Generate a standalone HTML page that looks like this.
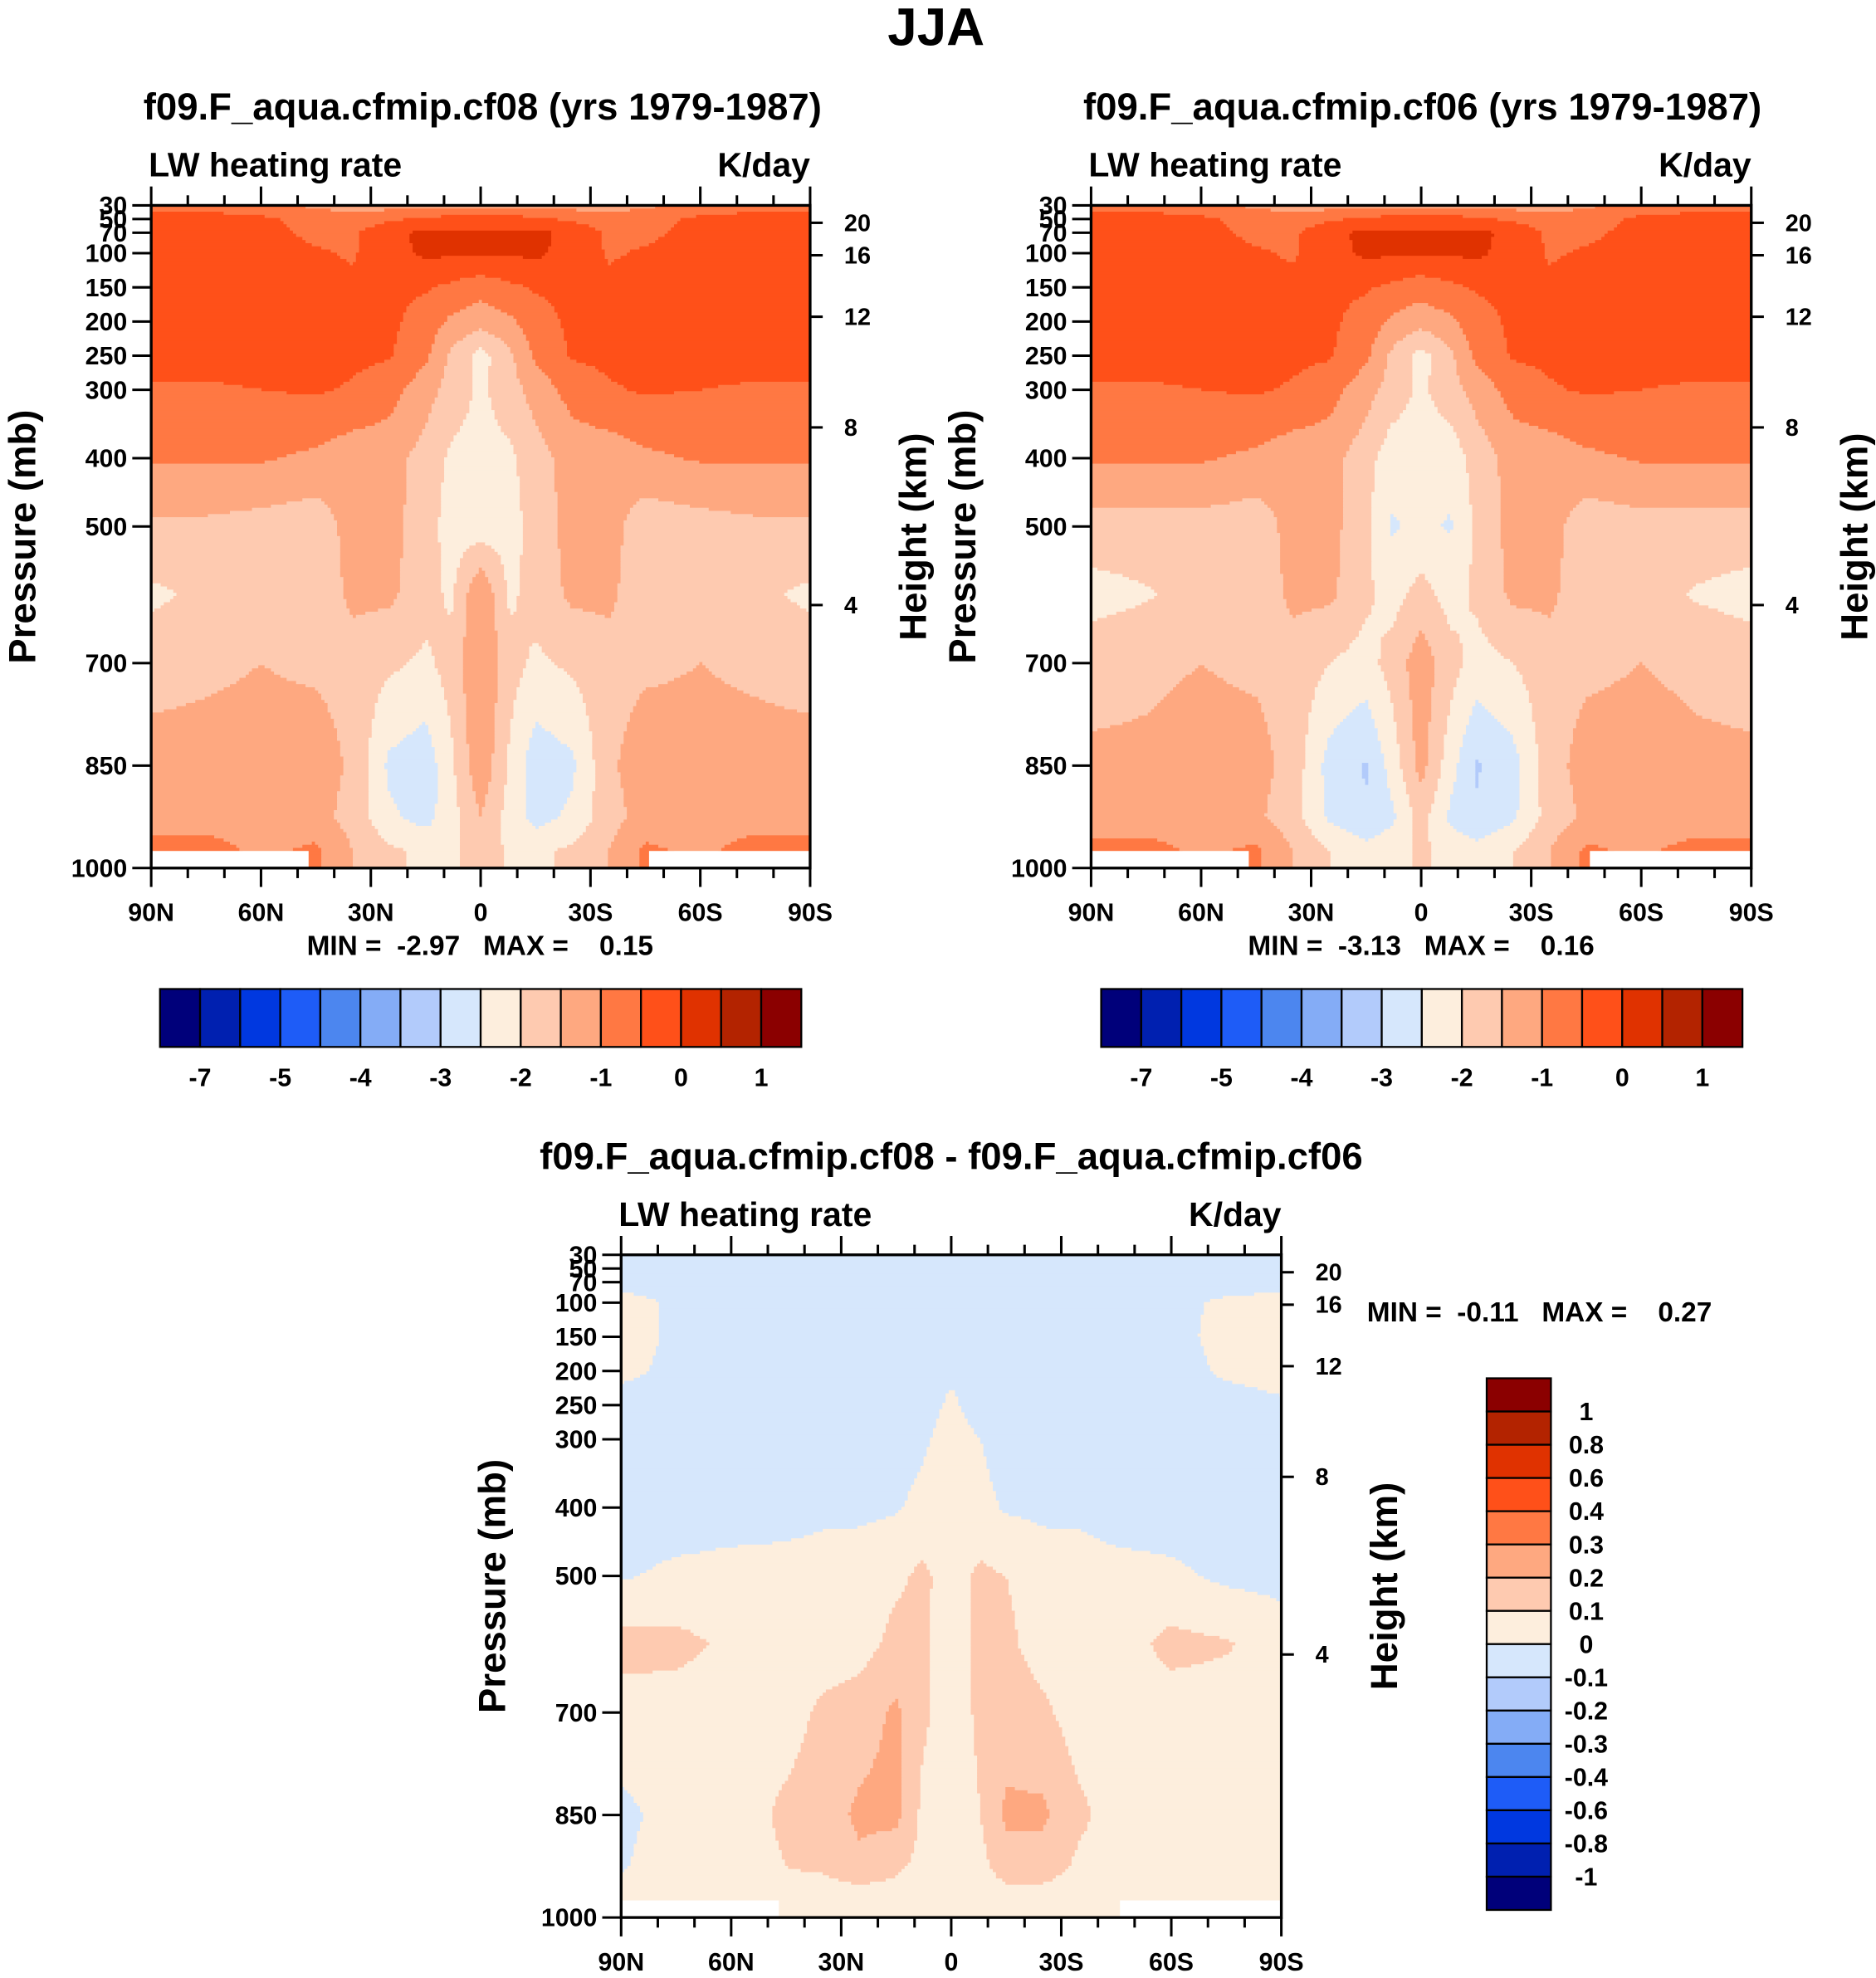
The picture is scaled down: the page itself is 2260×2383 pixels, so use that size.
<!DOCTYPE html>
<html><head><meta charset="utf-8"><style>html,body{margin:0;padding:0;background:#fff}svg{display:block}text{font-family:"Liberation Sans",sans-serif;font-weight:bold;fill:#000;white-space:pre}</style></head>
<body>
<svg id="s" xmlns="http://www.w3.org/2000/svg" width="2260" height="2383" viewBox="0 0 1489 1570">
<rect width="1489" height="1570" fill="#fff"/>
<text x="743" y="36" font-size="42" text-anchor="middle">JJA</text>
</svg>
<script>
const LATS=[90,75,60,45,35,25,15,8,0,-8,-15,-25,-35,-45,-60,-75,-90];
const PLEVS=[30,50,70,100,150,200,250,300,400,500,600,700,850,925,975,1000];
const LEVELS_ABS=[-7,-6,-5,-4.5,-4,-3.5,-3,-2.5,-2,-1.5,-1,-0.5,0,0.5,1];
const LABELS_ABS=["-7","-5","-4","-3","-2","-1","0","1"];
const LEVELS_DIFF=[-1,-0.8,-0.6,-0.4,-0.3,-0.2,-0.1,0,0.1,0.2,0.3,0.4,0.6,0.8,1];
const LABELS_DIFF=["-1","-0.8","-0.6","-0.4","-0.3","-0.2","-0.1","0","0.1","0.2","0.3","0.4","0.6","0.8","1"];
const COLORS=["#00007a","#0020b0","#0038e0","#1e5cf7","#4c86ef","#84acf6","#b2cbfb","#d6e7fc","#fdeedd","#fecab0","#fea880","#ff7843","#ff5019","#e03200","#b32300","#8b0000"];
const PRES_TICKS=[30,50,70,100,150,200,250,300,400,500,700,850,1000];
const HGT_TICKS=[20,16,12,8,4];
const HGT_PRES=[55.5,103,193,355,615];
const LAT_TICKS=[90,60,30,0,-30,-60,-90];
const LAT_LABELS=["90N","60N","30N","0","30S","60S","90S"];
const CF08=[
[-0.7,-0.7,-0.8,-1.1,-1.2,-1.2,-1.2,-1.1,-1.1,-1.1,-1.2,-1.2,-1.2,-1.1,-0.8,-0.7,-0.7],
[-0.3,-0.3,-0.4,-0.7,-0.8,-0.6,-0.4,-0.3,-0.3,-0.3,-0.4,-0.6,-0.8,-0.7,-0.4,-0.3,-0.3],
[-0.3,-0.3,-0.35,-0.6,-0.6,-0.1,0.1,0.05,0.02,0.05,0.1,-0.1,-0.6,-0.6,-0.35,-0.3,-0.3],
[-0.3,-0.3,-0.3,-0.45,-0.55,-0.2,0.1,0.05,0.05,0.05,0.1,-0.2,-0.55,-0.45,-0.3,-0.3,-0.3],
[-0.3,-0.3,-0.3,-0.3,-0.4,-0.4,-0.45,-0.6,-0.8,-0.6,-0.45,-0.4,-0.4,-0.3,-0.3,-0.3,-0.3],
[-0.3,-0.3,-0.3,-0.3,-0.3,-0.4,-0.7,-1.1,-1.3,-1.1,-0.7,-0.4,-0.3,-0.3,-0.3,-0.3,-0.3],
[-0.35,-0.35,-0.35,-0.35,-0.4,-0.45,-0.9,-1.6,-2.2,-1.6,-0.9,-0.45,-0.4,-0.35,-0.35,-0.35,-0.35],
[-0.55,-0.55,-0.5,-0.45,-0.55,-0.8,-1.3,-1.7,-2.1,-1.7,-1.3,-0.8,-0.55,-0.45,-0.5,-0.55,-0.55],
[-0.95,-0.95,-0.95,-1.1,-1.3,-1.3,-1.7,-2.1,-2.2,-2.1,-1.7,-1.3,-1.3,-1.1,-0.95,-0.95,-0.95],
[-1.6,-1.6,-1.7,-1.8,-1.3,-1.3,-1.8,-2.2,-2.3,-2.2,-1.8,-1.3,-1.3,-1.8,-1.7,-1.6,-1.6],
[-2.1,-1.9,-1.8,-1.8,-1.4,-1.4,-1.8,-2.1,-1.0,-2.1,-1.8,-1.4,-1.4,-1.8,-1.8,-1.9,-2.1],
[-1.7,-1.6,-1.5,-1.6,-1.7,-1.9,-2.1,-1.8,-1.0,-1.8,-2.1,-1.9,-1.7,-1.6,-1.5,-1.6,-1.7],
[-1.3,-1.3,-1.3,-1.2,-1.6,-2.6,-2.8,-2.1,-1.1,-2.1,-2.8,-2.6,-1.6,-1.2,-1.3,-1.3,-1.3],
[-1.2,-1.2,-1.3,-1.3,-1.7,-2.4,-2.7,-2.2,-1.5,-2.2,-2.7,-2.4,-1.7,-1.3,-1.3,-1.2,-1.2],
[-0.8,-0.8,-1.1,-0.9,-1.5,-1.9,-2.1,-2.1,-1.7,-2.1,-2.1,-1.9,-1.5,-0.9,-1.1,-0.8,-0.8],
[-0.8,-0.8,-1.1,-0.9,-1.5,-1.9,-2.1,-2.1,-1.7,-2.1,-2.1,-1.9,-1.5,-0.9,-1.1,-0.8,-0.8]];
const CF06=[
[-0.7,-0.7,-0.8,-1.1,-1.2,-1.2,-1.2,-1.1,-1.1,-1.1,-1.2,-1.2,-1.2,-1.1,-0.8,-0.7,-0.7],
[-0.3,-0.3,-0.4,-0.7,-0.8,-0.6,-0.4,-0.3,-0.3,-0.3,-0.4,-0.6,-0.8,-0.7,-0.4,-0.3,-0.3],
[-0.3,-0.3,-0.35,-0.6,-0.6,-0.1,0.1,0.05,0.02,0.05,0.1,-0.1,-0.6,-0.6,-0.35,-0.3,-0.3],
[-0.3,-0.3,-0.3,-0.45,-0.55,-0.2,0.1,0.05,0.05,0.05,0.1,-0.2,-0.55,-0.45,-0.3,-0.3,-0.3],
[-0.3,-0.3,-0.3,-0.3,-0.4,-0.4,-0.45,-0.6,-0.8,-0.6,-0.45,-0.4,-0.4,-0.3,-0.3,-0.3,-0.3],
[-0.3,-0.3,-0.3,-0.3,-0.3,-0.4,-0.7,-1.1,-1.3,-1.1,-0.7,-0.4,-0.3,-0.3,-0.3,-0.3,-0.3],
[-0.35,-0.35,-0.35,-0.35,-0.4,-0.45,-0.9,-1.6,-2.2,-1.6,-0.9,-0.45,-0.4,-0.35,-0.35,-0.35,-0.35],
[-0.55,-0.55,-0.5,-0.45,-0.55,-0.8,-1.3,-1.7,-2.1,-1.7,-1.3,-0.8,-0.55,-0.45,-0.5,-0.55,-0.55],
[-0.95,-0.95,-0.95,-1.1,-1.3,-1.3,-1.8,-2.3,-2.3,-2.3,-1.8,-1.3,-1.3,-1.1,-0.95,-0.95,-0.95],
[-1.7,-1.7,-1.7,-1.8,-1.3,-1.3,-1.9,-2.55,-2.4,-2.55,-1.9,-1.3,-1.3,-1.8,-1.7,-1.7,-1.7],
[-2.2,-2.05,-1.8,-1.8,-1.4,-1.4,-1.9,-2.2,-1.8,-2.2,-1.9,-1.4,-1.4,-1.8,-1.8,-2.05,-2.2],
[-1.7,-1.6,-1.5,-1.6,-1.7,-2.0,-2.2,-1.8,-1.2,-1.8,-2.2,-2.0,-1.7,-1.6,-1.5,-1.6,-1.7],
[-1.4,-1.4,-1.3,-1.3,-1.7,-2.7,-3.05,-2.3,-1.3,-2.3,-3.05,-2.7,-1.7,-1.3,-1.3,-1.4,-1.4],
[-1.3,-1.3,-1.3,-1.4,-1.8,-2.6,-2.95,-2.6,-1.8,-2.6,-2.95,-2.6,-1.8,-1.4,-1.3,-1.3,-1.3],
[-0.8,-0.8,-1.1,-0.9,-1.5,-2.0,-2.3,-2.2,-1.9,-2.2,-2.3,-2.0,-1.5,-0.9,-1.1,-0.8,-0.8],
[-0.8,-0.8,-1.1,-0.9,-1.5,-2.0,-2.3,-2.2,-1.9,-2.2,-2.3,-2.0,-1.5,-0.9,-1.1,-0.8,-0.8]];
const DIFF=[
[-0.05,-0.05,-0.05,-0.05,-0.05,-0.05,-0.05,-0.05,-0.05,-0.05,-0.05,-0.05,-0.05,-0.05,-0.05,-0.05,-0.05],
[-0.05,-0.05,-0.05,-0.05,-0.05,-0.05,-0.05,-0.05,-0.05,-0.05,-0.05,-0.05,-0.05,-0.05,-0.05,-0.05,-0.05],
[-0.05,-0.05,-0.05,-0.05,-0.05,-0.05,-0.05,-0.05,-0.05,-0.05,-0.05,-0.05,-0.05,-0.05,-0.05,-0.05,-0.05],
[0.05,-0.02,-0.05,-0.05,-0.05,-0.05,-0.05,-0.05,-0.05,-0.05,-0.05,-0.05,-0.05,-0.05,-0.03,0.02,0.05],
[0.05,-0.02,-0.05,-0.05,-0.05,-0.05,-0.05,-0.05,-0.05,-0.05,-0.05,-0.05,-0.05,-0.05,-0.03,0.03,0.05],
[0.03,-0.03,-0.05,-0.05,-0.05,-0.05,-0.05,-0.05,-0.02,-0.05,-0.05,-0.05,-0.02,-0.05,-0.05,0.02,0.05],
[-0.05,-0.05,-0.05,-0.05,-0.05,-0.05,-0.05,-0.05,0.02,-0.05,-0.05,-0.05,-0.05,-0.05,-0.05,-0.05,-0.02],
[-0.05,-0.05,-0.05,-0.05,-0.05,-0.05,-0.05,-0.02,0.05,0.0,-0.05,-0.05,-0.05,-0.05,-0.05,-0.05,-0.05],
[-0.05,-0.05,-0.04,-0.03,-0.02,-0.02,-0.01,0.03,0.06,0.03,-0.01,-0.02,-0.02,-0.04,-0.05,-0.05,-0.05],
[-0.01,0.02,0.03,0.03,0.04,0.05,0.08,0.12,0.06,0.12,0.1,0.05,0.04,0.03,0.02,-0.02,-0.03],
[0.14,0.13,0.08,0.05,0.05,0.06,0.13,0.12,0.05,0.13,0.12,0.06,0.05,0.05,0.13,0.11,0.05],
[0.05,0.05,0.05,0.06,0.12,0.15,0.22,0.12,0.05,0.12,0.15,0.12,0.05,0.05,0.05,0.05,0.05],
[-0.02,0.03,0.05,0.12,0.15,0.22,0.23,0.08,0.04,0.1,0.22,0.22,0.12,0.06,0.05,0.05,0.05],
[-0.01,0.05,0.05,0.1,0.12,0.18,0.12,0.07,0.04,0.07,0.15,0.15,0.08,0.05,0.05,0.05,0.05],
[0.05,0.05,0.05,0.05,0.03,0.03,0.05,0.05,0.05,0.05,0.05,0.05,0.05,0.05,0.05,0.05,0.05],
[0.05,0.05,0.05,0.05,0.05,0.05,0.05,0.05,0.05,0.05,0.05,0.05,0.05,0.05,0.05,0.05,0.05]];

const NS="http://www.w3.org/2000/svg";
const svg=document.getElementById('s');
function mk(tag,attrs,parent){const e=document.createElementNS(NS,tag);for(const k in attrs)e.setAttribute(k,attrs[k]);(parent||svg).appendChild(e);return e;}
function txt(x,y,s,size,anchor,parent){const t=mk('text',{x:x,y:y,'font-size':size,'text-anchor':anchor||'start'},parent);t.textContent=s;return t;}
function sample(data,lat,p){
  let i=0;while(i<LATS.length-2&&lat<LATS[i+1])i++;
  let j=0;while(j<PLEVS.length-2&&p>PLEVS[j+1])j++;
  const fx=(LATS[i]-lat)/(LATS[i]-LATS[i+1]);const fy=(p-PLEVS[j])/(PLEVS[j+1]-PLEVS[j]);
  const a=data[j][i],b=data[j][i+1],c=data[j+1][i],d=data[j+1][i+1];
  return (a*(1-fx)+b*fx)*(1-fy)+(c*(1-fx)+d*fx)*fy;}
function cidx(v,levels){let k=0;for(const l of levels)if(v>=l)k++;return k;}

function panel(px,py,w,h,data,levels,name){
  const g=mk('g',{});
  
  
  const X=lat=>px+(90-lat)/180*w;
  const Y=p=>py+(p-30)/970*h;
  const step=2.5;const nx=Math.ceil(w/step),ny=Math.ceil(h/step);
  for(let r=0;r<ny;r++){
    const y0=py+r*step,y1=Math.min(py+h,y0+step);const p=30+((y0+y1)/2-py)/h*970;
    let start=0,cur=-1;
    for(let c=0;c<=nx;c++){
      let k=-2;
      if(c<nx){const x0=px+c*step;const lat=90-((Math.min(x0+step/2,px+w))-px)/w*180;k=cidx(sample(data,lat,p),levels);}
      if(k!==cur){
        if(cur>=0){const xa=px+start*step,xb=Math.min(px+w,px+c*step);
          const rc=mk('rect',{x:xa,y:y0,width:xb-xa+0.4,height:y1-y0+0.4,fill:COLORS[cur]},g);
          
          }
        cur=k;start=c;}
    }
  }
  for(const [a,b] of [[90,47],[-46,-90]]){
    const m=mk('rect',{x:X(a),y:Y(975),width:X(b)-X(a),height:Y(1000)-Y(975),fill:'#fff'},g);
    
    
  }
  const fr=mk('rect',{x:px,y:py,width:w,height:h,fill:'none',stroke:'#000','stroke-width':2.2},g);
  
  
  PRES_TICKS.forEach(p=>{mk('line',{x1:px-15,x2:px,y1:Y(p),y2:Y(p),stroke:'#000','stroke-width':2},g);
    const t=txt(px-19,Y(p)+7,String(p),20,'end',g);
    
    });
  HGT_TICKS.forEach((hk,i)=>{const yy=Y(HGT_PRES[i]);mk('line',{x1:px+w,x2:px+w+10,y1:yy,y2:yy,stroke:'#000','stroke-width':2},g);
    const t=txt(px+w+27,yy+6.5,String(hk),19,'start',g);
    
    });
  for(let lat=90;lat>=-90;lat-=10){const major=lat%30===0;const L=major?15:8;const xx=X(lat);
    mk('line',{x1:xx,x2:xx,y1:py-L,y2:py,stroke:'#000','stroke-width':2},g);
    mk('line',{x1:xx,x2:xx,y1:py+h,y2:py+h+L,stroke:'#000','stroke-width':2},g);}
  LAT_TICKS.forEach((lt,i)=>{const t=txt(X(lt),py+h+42,LAT_LABELS[i],20,'middle',g);
    
    });
  let t=txt(px-2,py-23,'LW heating rate',27,'start',g);
  
  
  t=txt(px+w,py-23,'K/day',27,'end',g);
  
  
  t=txt(0,0,'Pressure (mb)',30,'middle',g);t.setAttribute('transform',`translate(${px-92},${py+h/2}) rotate(-90)`);
  
  
  t=txt(0,0,'Height (km)',30,'middle',g);t.setAttribute('transform',`translate(${px+w+92},${py+h/2}) rotate(-90)`);
  
  
  return g;
}
function hbar(x,y,w,h){
  const g=mk('g',{});
  
  
  const bw=w/16;
  COLORS.forEach((c,i)=>{const r=mk('rect',{x:x+i*bw,y:y,width:bw,height:h,fill:c,stroke:'#000','stroke-width':1.5},g);
    
    });
  LABELS_ABS.forEach((l,i)=>{const t=txt(x+(2*i+1)*bw,y+h+31,l,20,'middle',g);
    
    });
}
function vbar(x,y,w,h){
  const g=mk('g',{});
  
  
  const bh=h/16;
  COLORS.slice().reverse().forEach((c,i)=>{const r=mk('rect',{x:x,y:y+i*bh,width:w,height:bh,fill:c,stroke:'#000','stroke-width':1.5},g);
    
    });
  LABELS_DIFF.slice().reverse().forEach((l,i)=>{const t=txt(x+79,y+(i+1)*bh+7,l,20,'middle',g);
    
    });
}
function label(x,y,s,size,anchor,name){const t=txt(x,y,s,size,anchor);
  
  }

label(383,95,'f09.F_aqua.cfmip.cf08 (yrs 1979-1987)',30,'middle','panel1-title');
label(1129,95,'f09.F_aqua.cfmip.cf06 (yrs 1979-1987)',30,'middle','panel2-title');
label(755,928,'f09.F_aqua.cfmip.cf08 - f09.F_aqua.cfmip.cf06',30,'middle','panel3-title');
panel(120,163,523,526,CF08,LEVELS_ABS,'panel1');
panel(866,163,524,526,CF06,LEVELS_ABS,'panel2');
panel(493,996,524,526,DIFF,LEVELS_DIFF,'panel3');
label(381,758,'MIN =  -2.97   MAX =    0.15',22,'middle','panel1-min-max');
label(1128,758,'MIN =  -3.13   MAX =    0.16',22,'middle','panel2-min-max');
label(1085,1049,'MIN =  -0.11   MAX =    0.27',22,'start','panel3-min-max');
hbar(127,785,509,46);
hbar(874,785,509,46);
vbar(1180,1094,51,422);
</script>
</body></html>
